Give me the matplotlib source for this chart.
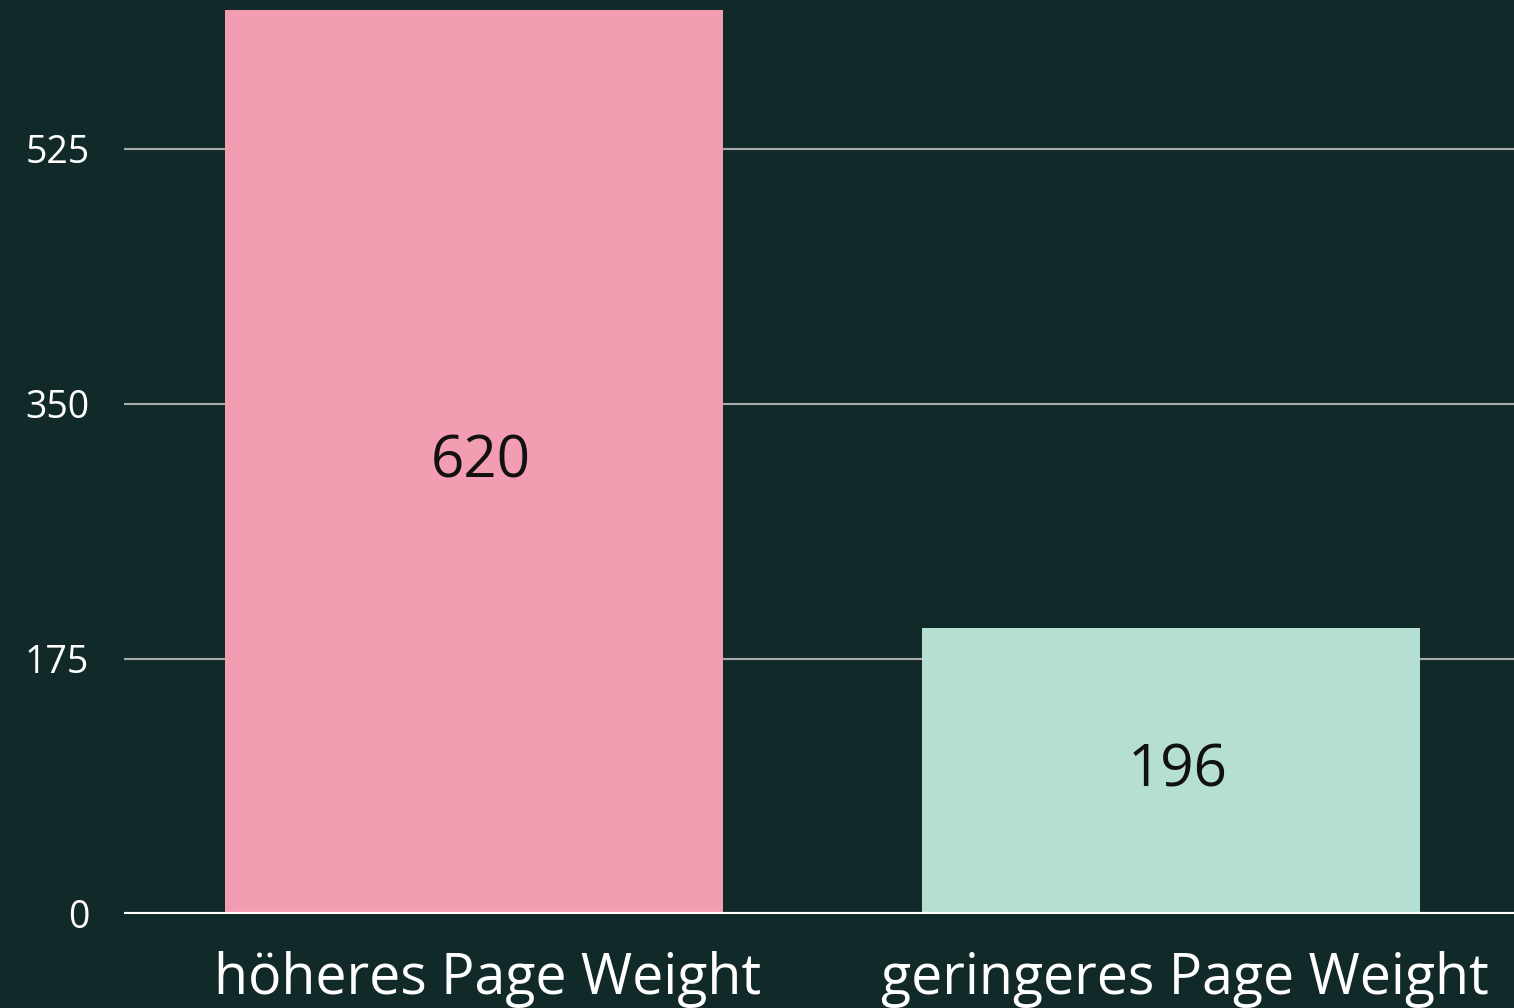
import matplotlib
matplotlib.use("Agg")
import matplotlib.pyplot as plt
from matplotlib.transforms import ScaledTranslation

categories = ["höheres Page Weight", "geringeres Page Weight"]
values = [620, 196]
colors = ["#F29DB2", "#B6DFD4"]
yticks = [0, 175, 350, 525]

bg = "#12292A"
plt.rcParams['font.family'] = ['Open Sans', 'DejaVu Sans']

fig = plt.figure(figsize=(15.14, 10.08), dpi=100, facecolor=bg)
ax = fig.add_axes([124/1514, (1008-914)/1008, 1 - 124/1514, (914-10)/1008])
ax.set_facecolor(bg)

x = list(range(len(categories)))
bars = ax.bar(x, values, width=0.714, color=colors, zorder=3)
for xi, v in zip(x, values):
    ax.text(xi + 0.01, v/2, str(v), ha='center', va='center', fontsize=42, color='#111111', zorder=4)

ax.set_xlim(-0.502, 1.492)
ax.set_ylim(0, 620)
ax.set_yticks(yticks)
ax.set_yticklabels([str(t) for t in yticks], fontsize=27, color='white')
ax.set_xticks(x)
ax.set_xticklabels(categories, fontsize=40, color='white')
ax.tick_params(axis='y', length=0, pad=25)
ax.tick_params(axis='x', length=0, pad=27)
shift = ScaledTranslation(14/100, 0, fig.dpi_scale_trans)
for lab in ax.get_xticklabels():
    lab.set_transform(lab.get_transform() + shift)
ax.grid(axis='y', color='#AAAAAA', linewidth=1.5, zorder=1)
ax.axhline(0, color='white', linewidth=3, zorder=5)
for s in ax.spines.values():
    s.set_visible(False)

fig.savefig("out.png", dpi=100, facecolor=bg)
